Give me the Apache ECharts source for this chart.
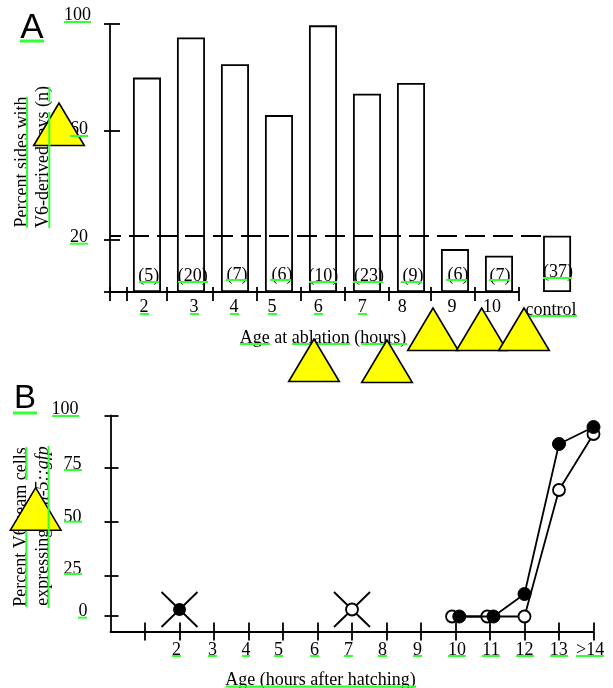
<!DOCTYPE html>
<html><head><meta charset="utf-8">
<style>html,body{margin:0;padding:0;background:#fff}#c{width:613px;height:688px}</style>
<script src="https://cdn.jsdelivr.net/npm/echarts@6/dist/echarts.min.js"></script>
</head><body><div id="c"></div>
<script>
// Panel A data
const ablationHours = [2,3,4,5,6,7,8,9,10,11.32];
const percentSides = [80,95,85,66,99.5,74,78,16,13.5,21];
const sideCounts = ['(5)','(20)','(7)','(6)','(10)','(23)','(9)','(6)','(7)','(37)'];
const thresholdPercent = 21;
const aYTicks = [0,19.5,60,100];
const aYLabels = ['','20','60','100'];
const aXTicks = [1.16,1.545,2.455,3.5,4.5,5.5,6.5,7.5,8.45,9.45,10.45];
const aXLabelAt = [1.93,3.07,3.98,4.84,5.89,6.89,7.8,8.93,9.84,11.18];
const aXLabels = ['2','3','4','5','6','7','8','9','10','control'];
// Panel B data
const openCircle = [[9.9,-0.5],[10.92,-0.5],[12,-0.5],[13,62.75],[14,90.75]];
const filledCircle = [[10.11,-0.5],[11.1,-0.5],[12,10.75],[13,85.75],[14,94.25]];
const crossedFilled = [[2,3]];
const crossedOpen = [[7,3]];
const bYTicks = [0,19.75,46.75,73.75,100];
const bYLabels = ['0','25','50','75','100'];
const bXTicks = [1,2,3,4,5,6,7,8,9,10,11,12,13,14];
const bXLabelAt = [1.913,2.957,3.928,4.87,5.913,6.9,7.884,8.9,10.04,11.03,12,12.99,13.9];
const bXLabels = ['2','3','4','5','6','7','8','9','10','11','12','13','>14'];

// Styling only
const serif = '"Liberation Serif","Times New Roman",serif';
const sans = '"Liberation Sans",Arial,sans-serif';
const INK = '#000', LW = 1.8, FS = 18, GREEN = '#33ff33';
const barShift = [[1.7,0],[1.7,0],[2,-1],[3,-1],[0.3,0],[2,0],[2,0],[3,-1],[1,0],[1,-4]];
const aYPad = {'20':[0,3,4,0],'60':[0,3,4,0],'100':[0,0,18,0]};
const bYPad = {'0':[0,0,8,0],'25':[0,6,14,0],'50':[0,6,10,0],'75':[0,6,8,0],'100':[0,9,12,0]};

function richFrom(pads){
  const r = {};
  Object.keys(pads).forEach(k=>{ r['t'+k] = {padding:pads[k], fontFamily:serif, fontSize:FS, color:INK}; });
  return r;
}
function pick(values, labels){
  return v => { const i = values.findIndex(t=>Math.abs(t-v)<1e-6); return i<0?'':labels[i]; };
}
const line = {lineStyle:{color:INK,width:LW}};

const lower = [ // underlines that lie beneath the triangles
 [20,44,41,3],[64,91,22],[139,159,282],[178,208,282],[226,247,280],[270,291,280],[309,337,282],[353,383,282],
 [401,422,282],[446,467,280],[489,510,280],[543,572,278],[140,149,314],[190,199,314],[230,239,314],[268,277,314],
 [314,323,314],[358,367,314],[526,577,316],[240,270,344],[292,350,344],[361,407,344],
 [70,88,243.7],[13,37,413,3],[52,79,416],[64,82,470],[64,82,521.7],[64,82,574],[78,87,617.7],
 [172,181,656],[208,217,656],[242,250,656],[274,283,656],[310,319,656],[344,353,656],[378,387,656],[413,422,656],
 [448,466,656],[482,500,656],[516,534,656],[550,568,656],[576,604,656],[226,416,686.5]
];
const lowerV = [[27,97,227.5],[26.3,447,480],[26.3,527,606.7]];
const upper = [[70,88,136]];
const upperV = [[49.3,87,102],[49.3,112,228],[48.6,446,608]];
const triangles = [[59,103],[35.7,487.7],[314,339],[387,340],[433,308],[481.7,308],[524,308]];

const graphics = [];
function hl(a,z){graphics.push({type:'line',silent:true,zlevel:1,z:z,shape:{x1:a[0],y1:a[2],x2:a[1],y2:a[2]},style:{stroke:GREEN,lineWidth:a[3]||2}});}
function vl(a,z){graphics.push({type:'line',silent:true,zlevel:1,z:z,shape:{x1:a[0],y1:a[1],x2:a[0],y2:a[2]},style:{stroke:GREEN,lineWidth:2}});}
lower.forEach(a=>hl(a,90)); lowerV.forEach(a=>vl(a,90));
triangles.forEach((t,i)=>graphics.push({type:'polygon',silent:true,zlevel:1,z:100+i,
  shape:{points:[[t[0],t[1]],[t[0]-25.3,t[1]+42.5],[t[0]+25.3,t[1]+42.5]]},
  style:{fill:'#ffff00',stroke:INK,lineWidth:1.6,lineJoin:'miter'}}));
upper.forEach(a=>hl(a,120)); upperV.forEach(a=>vl(a,120));

function txt(text,x,y,opt){
  const o = Object.assign({font:serif,size:FS,rot:0,align:'center',rich:undefined},opt||{});
  graphics.push({type:'text',silent:true,z:50,x:x,y:y,rotation:o.rot,originX:0,originY:0,
    style:{text:text,fontFamily:o.font,fontSize:o.size,fill:INK,align:o.align,verticalAlign:'middle',rich:o.rich}});
}
txt('A',32,28,{font:sans,size:35});
txt('B',25,399,{font:sans,size:33});
txt('Percent sides with',22,162,{rot:Math.PI/2});
txt('V6-derived rays (n)',43,157,{rot:Math.PI/2});
txt('Age at ablation (hours)',323,338);
txt('Percent V6 seam cells',21,527,{rot:Math.PI/2});
txt('expressing {i|scm-5::gfp}',43,526,{rot:Math.PI/2,rich:{i:{fontStyle:'italic',fontFamily:serif,fontSize:FS,fill:INK}}});
txt('Age (hours after hatching)',320.5,680);

const noZeroHidden = {show:false,onZero:false};
const option = {
  animation:false,
  backgroundColor:'#fff',
  grid:[
    {left:110,top:24,width:477,height:268},
    {left:110.5,top:415.5,width:483,height:216}
  ],
  xAxis:[
    {gridIndex:0,position:'bottom',type:'value',min:1.16,max:12,splitLine:{show:false},axisLine:noZeroHidden,
     axisTick:{show:true,customValues:aXTicks,length:9,...line},
     axisLabel:{show:true,customValues:aXLabelAt,margin:6,verticalAlign:'top',fontFamily:serif,fontSize:FS,color:INK,
       formatter:v=>{const s=pick(aXLabelAt,aXLabels)(v);return s==='control'?'{c|control}':s;},
       rich:{c:{padding:[3,0,0,0],fontFamily:serif,fontSize:FS,color:INK}}}},
    {gridIndex:0,position:'bottom',type:'value',min:1.16,max:12,splitLine:{show:false},axisLine:noZeroHidden,axisLabel:{show:false},
     axisTick:{show:true,inside:true,customValues:aXTicks,length:5,...line}},
    {gridIndex:1,position:'bottom',type:'value',min:0,max:14,splitLine:{show:false},axisLine:{show:true,onZero:false,...line},
     axisTick:{show:true,customValues:bXTicks,length:9,...line},
     axisLabel:{show:true,customValues:bXLabelAt,margin:10,verticalAlign:'top',fontFamily:serif,fontSize:FS,color:INK,
       formatter:pick(bXLabelAt,bXLabels)}},
    {gridIndex:1,position:'bottom',type:'value',min:0,max:14,splitLine:{show:false},axisLine:noZeroHidden,axisLabel:{show:false},
     axisTick:{show:true,inside:true,customValues:bXTicks,length:9,...line}}
  ],
  yAxis:[
    {gridIndex:0,position:'left',type:'value',min:0,max:100,splitLine:{show:false},axisLine:{show:true,onZero:false,...line},
     axisTick:{show:true,customValues:aYTicks,length:6,...line},
     axisLabel:{show:true,customValues:aYTicks,margin:19,
       formatter:v=>{const s=pick(aYTicks,aYLabels)(v);return s?'{t'+s+'|'+s+'}':'';},rich:richFrom(aYPad)}},
    {gridIndex:0,position:'left',type:'value',min:0,max:100,splitLine:{show:false},axisLine:noZeroHidden,axisLabel:{show:false},
     axisTick:{show:true,inside:true,customValues:aYTicks,length:10,...line}},
    {gridIndex:1,position:'left',type:'value',min:-8,max:100,splitLine:{show:false},axisLine:{show:true,onZero:false,...line},
     axisTick:{show:true,customValues:bYTicks,length:6,...line},
     axisLabel:{show:true,customValues:bYTicks,margin:23,
       formatter:v=>{const s=pick(bYTicks,bYLabels)(v);return '{t'+s+'|'+s+'}';},rich:richFrom(bYPad)}},
    {gridIndex:1,position:'left',type:'value',min:-8,max:100,splitLine:{show:false},axisLine:noZeroHidden,axisLabel:{show:false},
     axisTick:{show:true,inside:true,customValues:bYTicks,length:8,...line}}
  ],
  series:[
    {type:'bar',name:'Percent sides',xAxisIndex:0,yAxisIndex:0,barWidth:28,
     data:ablationHours.map((h,i)=>({value:[h,percentSides[i]],
       label:{show:true,position:'insideBottom',distance:7,offset:barShift[i],formatter:sideCounts[i],
              fontFamily:serif,fontSize:FS,color:INK,textBorderWidth:0,textBorderColor:'transparent'}})),
     itemStyle:{color:'#fff',borderColor:INK,borderWidth:LW},
     markLine:{silent:true,symbol:'none',label:{show:false},animation:false,
       data:[
         [{coord:[1.16,thresholdPercent],lineStyle:{color:INK,width:LW,type:[20,8],dashOffset:9}},{coord:[11,thresholdPercent]}],
         [{coord:[1.16,0],lineStyle:{color:INK,width:LW,type:'solid'}},{coord:[10.45,0]}]
       ]}},
    {type:'scatter',name:'excluded',xAxisIndex:2,yAxisIndex:2,data:crossedFilled.concat(crossedOpen),
     symbol:'path://M0 0L10 10M10 0L0 10',symbolSize:[36,35],
     itemStyle:{color:'none',borderColor:INK,borderWidth:LW,opacity:1},z:3},
    {type:'line',name:'open',xAxisIndex:2,yAxisIndex:2,data:openCircle,symbol:'circle',symbolSize:12,clip:false,
     lineStyle:{color:INK,width:LW},itemStyle:{color:'#fff',borderColor:INK,borderWidth:LW},z:4},
    {type:'line',name:'filled',xAxisIndex:2,yAxisIndex:2,data:filledCircle,symbol:'circle',symbolSize:13,clip:false,
     lineStyle:{color:INK,width:LW},itemStyle:{color:INK,borderColor:INK,borderWidth:1},z:5},
    {type:'scatter',name:'open early',xAxisIndex:2,yAxisIndex:2,data:crossedOpen,symbol:'circle',symbolSize:12,
     itemStyle:{color:'#fff',borderColor:INK,borderWidth:LW,opacity:1},z:6},
    {type:'scatter',name:'filled early',xAxisIndex:2,yAxisIndex:2,data:crossedFilled,symbol:'circle',symbolSize:13,
     itemStyle:{color:INK,opacity:1},z:6}
  ],
  graphic:{elements:graphics}
};
echarts.init(document.getElementById('c'),null,{renderer:'canvas'}).setOption(option);
</script></body></html>
